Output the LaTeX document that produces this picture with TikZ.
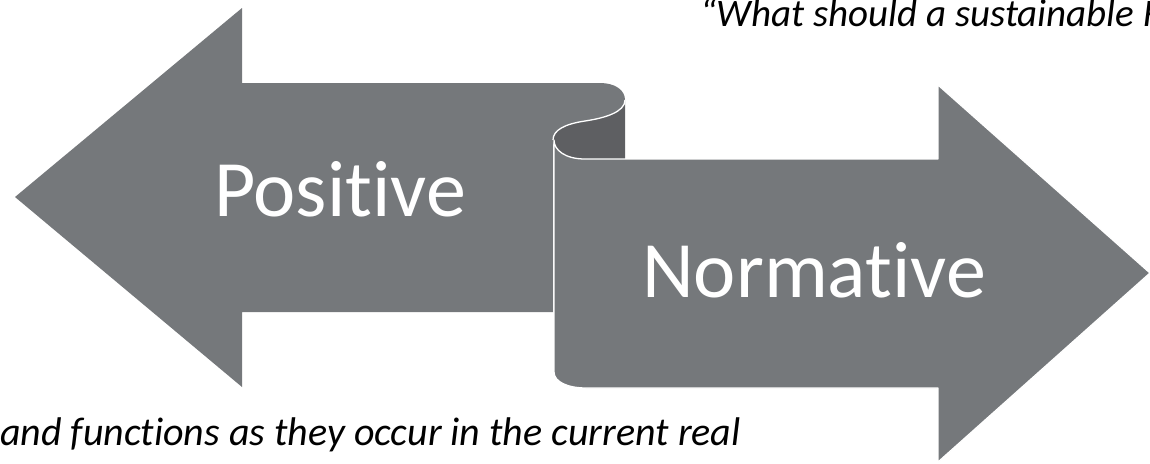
\documentclass[tikz,border=0pt]{standalone}
\usepackage{fontspec}
\setmainfont{Carlito}[Ligatures={NoCommon,NoContextual}]
\definecolor{bandgrey}{HTML}{75787B}
\definecolor{curlgrey}{HTML}{5E5F62}
\begin{document}
\begin{tikzpicture}[x=1pt,y=-1pt,
  band/.style={fill=bandgrey},
  curl/.style={fill=curlgrey},
  edge/.style={draw=white,line width=1.3pt,line join=round},
  bigword/.style={text=white,inner sep=0pt,anchor=base,font=\fontsize{80}{96}\selectfont},
  quote/.style={text=black,inner sep=0pt,anchor=base west}]
\path[use as bounding box,clip] (0,0) rectangle (1150,463);

% left-pointing band, rolled over at its right end
\path[band] (15,197) -- (242,8) -- (242,83) -- (600,83)
  .. controls (615,83) and (625,90) .. (625,100)
  .. controls (625,112) and (605,118) .. (585,121)
  .. controls (565,124) and (553,130) .. (553,140)
  -- (553,312) -- (242,312) -- (242,387) -- cycle;

% underside of the roll
\path[curl] (625,100) -- (625,159) -- (585,159)
  .. controls (565,159) and (553,150) .. (553,140)
  .. controls (553,130) and (565,124) .. (585,121)
  .. controls (605,118) and (625,112) .. (625,100) -- cycle;
\draw[edge] (625,100)
  .. controls (625,112) and (605,118) .. (585,121)
  .. controls (565,124) and (553,130) .. (553,140);

% right-pointing band
\path[band,edge] (554,140) -- (554,372)
  .. controls (554,382) and (568,388) .. (586,388)
  -- (938,388) -- (938,462) -- (1150,273) -- (938,85) -- (938,159)
  -- (585,159) .. controls (565,159) and (554,150) .. (554,140) -- cycle;

\node[bigword] (pos) at (340,216) {Positive};
\node[bigword] (norm) at (814,297) {Normative};

\node[quote,font=\itshape\fontsize{39}{47}\selectfont] (top) at (700,27) {“What should a sustainable F};
\node[quote,font=\itshape\fontsize{40}{48}\selectfont] (bottom) at (0,445) {and functions as they occur in the current real};
\end{tikzpicture}
\end{document}
